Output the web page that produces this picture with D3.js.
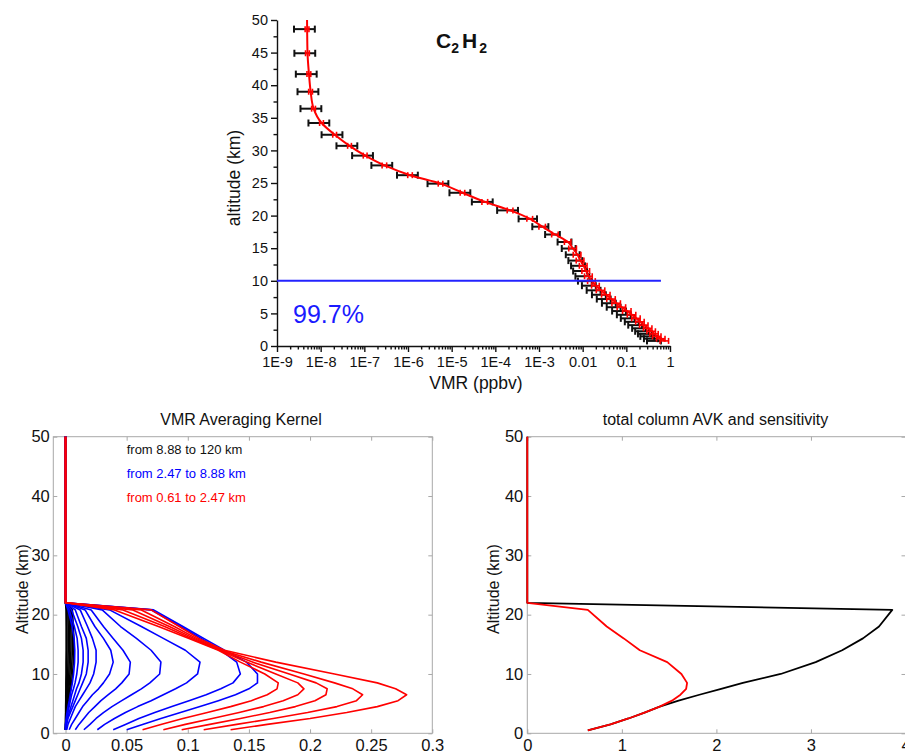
<!DOCTYPE html>
<html>
<head>
<meta charset="utf-8">
<script src="https://cdn.jsdelivr.net/npm/d3@7"></script>
<style>
  body { margin: 0; background: #fff; }
  svg { display: block; }
</style>
</head>
<body>
<svg id="chart" width="905" height="754"></svg>
<script>
const FONT = '"Liberation Sans", Arial, Helvetica, sans-serif';

// ---- top panel: retrieved C2H2 profile (VMR, ppbv) ----
const levelAlt = [0.78, 1.12, 1.48, 1.86, 2.26, 2.71, 3.2, 3.71, 4.24, 4.79, 5.36, 5.95, 6.56, 7.2, 7.86, 8.54,
  9.25, 9.95, 10.7, 11.5, 12.3, 13.1, 14.0, 14.95, 15.95, 17.1, 18.3, 19.5, 20.8, 22.1, 23.5, 24.9, 26.2,
  27.7, 29.2, 30.7, 32.4, 34.2, 36.4, 39.0, 41.7, 44.9, 48.6, 52.6];
const retrieved = [0.76, 0.63, 0.51, 0.44, 0.38, 0.316, 0.257, 0.21, 0.17, 0.135, 0.105, 0.079, 0.060, 0.0457,
  0.0347, 0.0263, 0.020, 0.0162, 0.0138, 0.012, 0.0105, 0.0089, 0.0076, 0.0060, 0.0046, 0.00235, 0.0012,
  6.2e-4, 2.2e-4, 5.8e-5, 1.78e-5, 5.6e-6, 1.12e-6, 2.9e-7, 1.05e-7, 4.6e-8, 2.1e-8, 1.05e-8, 6.9e-9,
  5.9e-9, 5.4e-9, 5.0e-9, 4.9e-9, 4.85e-9];
const retrievedErr = [0.22, 0.22, 0.22, 0.22, 0.22, 0.22, 0.22, 0.22, 0.22, 0.22, 0.22, 0.22, 0.22, 0.22, 0.22, 0.22,
  0.2, 0.2, 0.2, 0.2, 0.2, 0.2, 0.2, 0.2, 0.17, 0.17, 0.17, 0.15, 0.15, 0.15, 0.12, 0.12, 0.12,
  0.12, 0.1, 0.1, 0.1, 0.1, 0.1, 0.1, 0.1, 0.1, 0.1, 0.1];
const apriori = [0.458, 0.389, 0.322, 0.284, 0.245, 0.209, 0.170, 0.142, 0.115, 0.0934, 0.0727, 0.0547, 0.0425,
  0.0324, 0.0251, 0.0190, 0.0148, 0.0120, 0.0105, 0.00931, 0.00834, 0.00724, 0.00632, 0.00511, 0.0041,
  0.00219, 0.00117, 6.2e-4, 2.2e-4, 5.8e-5, 1.78e-5, 5.6e-6, 1.12e-6, 2.9e-7, 1.05e-7, 4.6e-8, 2.1e-8,
  1.05e-8, 6.9e-9, 5.9e-9, 5.4e-9, 5.0e-9, 4.9e-9, 4.85e-9];
const aprioriErr = [0.35, 0.35, 0.35, 0.35, 0.35, 0.35, 0.35, 0.35, 0.35, 0.35, 0.35, 0.35, 0.35, 0.35, 0.35, 0.35,
  0.35, 0.35, 0.35, 0.35, 0.35, 0.35, 0.35, 0.35, 0.35, 0.37, 0.4, 0.45, 0.5, 0.5, 0.5, 0.5, 0.5,
  0.5, 0.5, 0.5, 0.5, 0.5, 0.5, 0.5, 0.5, 0.5, 0.5, 0.5];
const yTopTicks = [0, 5, 10, 15, 20, 25, 30, 35, 40, 45, 50];
const xTopTickLabels = ['1E-9', '1E-8', '1E-7', '1E-6', '1E-5', '1E-4', '1E-3', '0.01', '0.1', '1'];
const boundaryAlt = 10;
const boundaryEndVmr = 0.62;
const coverageText = '99.7%';

// ---- bottom left: VMR averaging kernels ----
const kernelAlt = [0.6, 1.5, 2.5, 3.5, 4.5, 5.5, 6.5, 7.5, 8.5, 10, 12, 14, 16, 18, 20.8, 22, 50];
const blackKernels = [ // from 8.88 to 120 km
  [0, 0.0004, 0.001, 0.0016, 0.0022, 0.0029, 0.0036, 0.0043, 0.005, 0.0057, 0.0064, 0.0068, 0.0068, 0.0064, 0.0056, 0, 0],
  [0, 0.0003, 0.0008, 0.0013, 0.0018, 0.0023, 0.0029, 0.0034, 0.004, 0.0046, 0.0052, 0.0056, 0.0057, 0.0054, 0.0047, 0, 0],
  [0, 0.0002, 0.0006, 0.001, 0.0014, 0.0018, 0.0022, 0.0027, 0.0031, 0.0036, 0.0041, 0.0044, 0.0045, 0.0043, 0.0037, 0, 0],
  [0, 0.0002, 0.0004, 0.0007, 0.001, 0.0013, 0.0016, 0.002, 0.0023, 0.0027, 0.003, 0.0033, 0.0034, 0.0032, 0.0028, 0, 0],
  [0, 0.0001, 0.0003, 0.0005, 0.0007, 0.0009, 0.0011, 0.0013, 0.0015, 0.0018, 0.002, 0.0022, 0.0023, 0.0022, 0.0019, 0, 0],
  [0, 0, 0.0001, 0.0002, 0.0003, 0.0004, 0.0005, 0.0006, 0.0007, 0.0009, 0.001, 0.0011, 0.0012, 0.0011, 0.001, 0, 0],
  [0, 0, 0, 0.0001, 0.0001, 0.0002, 0.0002, 0.0003, 0.0003, 0.0004, 0.0004, 0.0005, 0.0005, 0.0005, 0.0004, 0, 0]
];
const blueKernels = [ // from 2.47 to 8.88 km
  [0.05, 0.063, 0.078, 0.094, 0.11, 0.125, 0.139, 0.15, 0.157, 0.157, 0.148, 0.13, 0.113, 0.096, 0.072, 0, 0],
  [0.039, 0.049, 0.06, 0.073, 0.087, 0.101, 0.115, 0.127, 0.137, 0.143, 0.14, 0.127, 0.111, 0.094, 0.07, 0, 0],
  [0.026, 0.032, 0.04, 0.049, 0.059, 0.07, 0.08, 0.09, 0.099, 0.108, 0.11, 0.098, 0.08, 0.062, 0.036, 0, 0],
  [0.015, 0.02, 0.025, 0.031, 0.038, 0.046, 0.054, 0.062, 0.069, 0.077, 0.078, 0.07, 0.058, 0.045, 0.03, 0, 0],
  [0.008, 0.011, 0.015, 0.019, 0.024, 0.029, 0.035, 0.041, 0.046, 0.052, 0.053, 0.047, 0.039, 0.031, 0.021, 0, 0],
  [0.003, 0.005, 0.008, 0.011, 0.014, 0.018, 0.022, 0.027, 0.031, 0.036, 0.039, 0.037, 0.031, 0.024, 0.016, 0, 0],
  [0.001, 0.002, 0.004, 0.006, 0.008, 0.011, 0.014, 0.017, 0.02, 0.023, 0.025, 0.025, 0.022, 0.018, 0.012, 0, 0],
  [0, 0.001, 0.002, 0.004, 0.006, 0.008, 0.01, 0.012, 0.014, 0.017, 0.0185, 0.0185, 0.017, 0.013, 0.008, 0, 0],
  [0, 0.0005, 0.0015, 0.003, 0.0045, 0.006, 0.0075, 0.009, 0.011, 0.013, 0.0144, 0.0144, 0.013, 0.01, 0.005, 0, 0],
  [0, 0, 0.001, 0.002, 0.003, 0.004, 0.005, 0.0065, 0.0078, 0.0092, 0.0103, 0.0103, 0.0095, 0.0072, 0.003, 0, 0],
  [0, 0, 0.0005, 0.0012, 0.002, 0.003, 0.0038, 0.0047, 0.0056, 0.0066, 0.0074, 0.0076, 0.007, 0.0054, 0.002, 0, 0]
];
const redKernels = [ // from 0.61 to 2.47 km
  [0.135, 0.165, 0.2, 0.23, 0.255, 0.272, 0.279, 0.27, 0.255, 0.22, 0.172, 0.13, 0.109, 0.093, 0.07, 0, 0],
  [0.113, 0.14, 0.17, 0.198, 0.222, 0.238, 0.243, 0.235, 0.22, 0.195, 0.16, 0.128, 0.107, 0.089, 0.062, 0, 0],
  [0.095, 0.118, 0.143, 0.167, 0.188, 0.204, 0.213, 0.214, 0.205, 0.183, 0.153, 0.127, 0.105, 0.085, 0.055, 0, 0],
  [0.080, 0.098, 0.12, 0.142, 0.162, 0.178, 0.19, 0.195, 0.19, 0.172, 0.148, 0.126, 0.103, 0.081, 0.047, 0, 0],
  [0.063, 0.078, 0.096, 0.116, 0.135, 0.152, 0.165, 0.173, 0.174, 0.163, 0.143, 0.125, 0.101, 0.076, 0.04, 0, 0]
];
const kernelLegend = ['from 8.88 to 120 km', 'from 2.47 to 8.88 km', 'from 0.61 to 2.47 km'];
const kernelTicks = [0, 0.05, 0.1, 0.15, 0.2, 0.25, 0.3];

// ---- bottom right: total column AVK and sensitivity ----
const columnAlt = [0.5, 1.5, 2.5, 3.5, 4.5, 5.5, 6.5, 7.5, 8.5, 10, 12, 14, 16, 18, 20.8, 22, 50];
const columnAvk = [0.64, 0.88, 1.07, 1.24, 1.40, 1.6, 1.82, 2.05, 2.28, 2.68, 3.05, 3.33, 3.55, 3.72, 3.86, 0, 0];
const sensitivity = [0.64, 0.88, 1.07, 1.24, 1.40, 1.53, 1.62, 1.68, 1.69, 1.63, 1.48, 1.19, 1.02, 0.84, 0.64, 0, 0];
const columnTicks = [0, 1, 2, 3, 4];
const altTicks = [0, 10, 20, 30, 40, 50];

const svg = d3.select('#chart').attr('font-family', FONT);

// ================= top panel =================
const yTop = d3.scaleLinear().domain([0, 50]).range([346, 20]);
const xTop = d3.scaleLog().domain([1e-9, 1]).range([277, 670]);

svg.append('defs').append('clipPath').attr('id', 'clipTop')
  .append('rect').attr('x', 262).attr('y', 20).attr('width', 430).attr('height', 340);

const decades = d3.range(-9, 1).map(e => Math.pow(10, e));
const minorX = [];
decades.slice(0, -1).forEach(d => { for (let k = 2; k < 10; k++) minorX.push(d * k); });
const minorY = yTopTicks.slice(0, -1).map(t => t + 2.5);

function fontAxis(g, size) {
  g.attr('font-family', FONT).attr('font-size', size);
  g.selectAll('text').attr('fill', '#111');
  g.selectAll('line,path').attr('stroke', '#111').attr('stroke-width', 1.4);
}

const gyTop = svg.append('g').attr('transform', 'translate(277,0)')
  .call(d3.axisLeft(yTop).tickValues(yTopTicks).tickSize(6).tickSizeOuter(0).tickPadding(3));
fontAxis(gyTop, 14.5);
const gyTopMinor = svg.append('g').attr('transform', 'translate(277,0)')
  .call(d3.axisLeft(yTop).tickValues(minorY).tickSize(3.5).tickFormat(''));
gyTopMinor.select('.domain').remove();
fontAxis(gyTopMinor, 10);

const gxTop = svg.append('g').attr('transform', 'translate(0,346)')
  .call(d3.axisBottom(xTop).tickValues(decades).tickFormat((d, i) => xTopTickLabels[i])
    .tickSize(6).tickSizeOuter(0).tickPadding(5));
fontAxis(gxTop, 14.5);
const gxTopMinor = svg.append('g').attr('transform', 'translate(0,346)')
  .call(d3.axisBottom(xTop).tickValues(minorX).tickSize(3.5).tickFormat(''));
gxTopMinor.select('.domain').remove();
fontAxis(gxTopMinor, 10);

svg.append('text').attr('x', 476).attr('y', 389).attr('text-anchor', 'middle')
  .attr('font-size', 17.5).attr('fill', '#111').text('VMR (ppbv)');
svg.append('text').attr('transform', 'translate(234,178) rotate(-90)').attr('dy', '0.35em')
  .attr('text-anchor', 'middle').attr('font-size', 17.5).attr('fill', '#111').text('altitude (km)');

// title C2H2
const title = svg.append('text').attr('x', 436).attr('y', 48).attr('font-size', 21)
  .attr('font-weight', 'bold').attr('fill', '#111');
title.append('tspan').text('C');
title.append('tspan').attr('font-size', 14).attr('dy', 5).text('2');
title.append('tspan').attr('dx', 3).attr('dy', -5).text('H');
title.append('tspan').attr('font-size', 14).attr('dx', 2).attr('dy', 5).text('2');

const levels = levelAlt.map((a, i) => ({
  alt: a, v: retrieved[i], ve: retrievedErr[i], ap: apriori[i], ape: aprioriErr[i]
}));

const gTop = svg.append('g').attr('clip-path', 'url(#clipTop)');

function errorBars(key, errKey, color, width, cap) {
  const g = gTop.append('g').attr('stroke', color).attr('stroke-width', width).attr('fill', 'none');
  levels.forEach(d => {
    const y = yTop(d.alt);
    const lo = xTop(d[key] * (1 - d[errKey]));
    const hi = xTop(d[key] * (1 + d[errKey]));
    g.append('line').attr('x1', lo).attr('x2', hi).attr('y1', y).attr('y2', y);
    g.append('line').attr('x1', lo).attr('x2', lo).attr('y1', y - cap).attr('y2', y + cap);
    g.append('line').attr('x1', hi).attr('x2', hi).attr('y1', y - cap).attr('y2', y + cap);
  });
}

errorBars('ap', 'ape', '#111', 2, 3.5);

gTop.append('path').datum(levels)
  .attr('d', d3.line().x(d => xTop(d.v)).y(d => yTop(d.alt)).curve(d3.curveMonotoneY))
  .attr('fill', 'none').attr('stroke', '#ff0000').attr('stroke-width', 2);

errorBars('v', 've', '#ff0000', 1.6, 3);

svg.append('line')
  .attr('x1', xTop.range()[0]).attr('x2', xTop(boundaryEndVmr))
  .attr('y1', yTop(boundaryAlt)).attr('y2', yTop(boundaryAlt))
  .attr('stroke', '#2323ff').attr('stroke-width', 2);
svg.append('text').attr('x', 293).attr('y', 323).attr('font-size', 25)
  .attr('fill', '#1a1aff').text(coverageText);

// ================= bottom panels =================
const yK = d3.scaleLinear().domain([0, 50]).range([733.3, 436.7]);
const xK = d3.scaleLinear().domain([-0.01, 0.3]).range([53.3, 432.3]);
const xS = d3.scaleLinear().domain([0, 4]).range([527.3, 905.5]);

function boxAxes(xs, xTicks, xFmt, yPad) {
  const [x0, x1] = xs.range();
  const [y0, y1] = yK.range();
  const gray = '#a8a8a8';
  const parts = [
    [d3.axisBottom(xs).tickValues(xTicks).tickFormat(xFmt).tickPadding(6), `translate(0,${y0})`],
    [d3.axisTop(xs).tickValues(xTicks).tickFormat(''), `translate(0,${y1})`],
    [d3.axisLeft(yK).tickValues(altTicks).tickPadding(yPad), `translate(${x0},0)`],
    [d3.axisRight(yK).tickValues(altTicks).tickFormat(''), `translate(${x1},0)`]
  ];
  parts.forEach(([ax, tr]) => {
    const g = svg.append('g').attr('transform', tr).call(ax.tickSizeInner(-4).tickSizeOuter(0));
    g.select('.domain').remove();
    g.attr('font-family', FONT).attr('font-size', 16.5);
    g.selectAll('line').attr('stroke', gray);
    g.selectAll('text').attr('fill', '#111');
  });
  svg.append('rect').attr('x', x0).attr('y', y1).attr('width', x1 - x0).attr('height', y0 - y1)
    .attr('fill', 'none').attr('stroke', gray).attr('stroke-width', 1);
}

boxAxes(xK, kernelTicks, d3.format(''), 3.5);
boxAxes(xS, columnTicks, d3.format(''), 4);

// kernels
const kLine = d3.line().x(v => xK(v)).y((v, i) => yK(kernelAlt[i]));
[[blackKernels, '#000000'], [blueKernels, '#0000ff'], [redKernels, '#ff0000']].forEach(([set, color]) => {
  set.forEach(k => {
    svg.append('path').attr('d', kLine(k)).attr('fill', 'none')
      .attr('stroke', color).attr('stroke-width', 1.6).attr('stroke-linejoin', 'round');
  });
});

// column AVK and sensitivity
const sLine = d3.line().x(v => xS(v)).y((v, i) => yK(columnAlt[i]));
[[columnAvk, '#000000'], [sensitivity, '#ff0000']].forEach(([vals, color]) => {
  svg.append('path').attr('d', sLine(vals)).attr('fill', 'none')
    .attr('stroke', color).attr('stroke-width', 1.8).attr('stroke-linejoin', 'round');
});

// titles, labels, legend
svg.append('text').attr('x', 241).attr('y', 425).attr('text-anchor', 'middle')
  .attr('font-size', 16).attr('fill', '#111').text('VMR Averaging Kernel');
svg.append('text').attr('x', 715.5).attr('y', 425).attr('text-anchor', 'middle')
  .attr('font-size', 16).attr('fill', '#111').text('total column AVK and sensitivity');

[[22, 589], [493.3, 589]].forEach(([x, y]) => {
  svg.append('text').attr('transform', `translate(${x},${y}) rotate(-90)`).attr('dy', '0.35em')
    .attr('text-anchor', 'middle').attr('font-size', 16).attr('fill', '#111').text('Altitude (km)');
});

const legendColors = ['#111111', '#0000ff', '#ff0000'];
kernelLegend.forEach((t, i) => {
  svg.append('text').attr('x', 126.7).attr('y', 453.5 + i * 24).attr('font-size', 13)
    .attr('fill', legendColors[i]).text(t);
});
</script>
</body>
</html>
